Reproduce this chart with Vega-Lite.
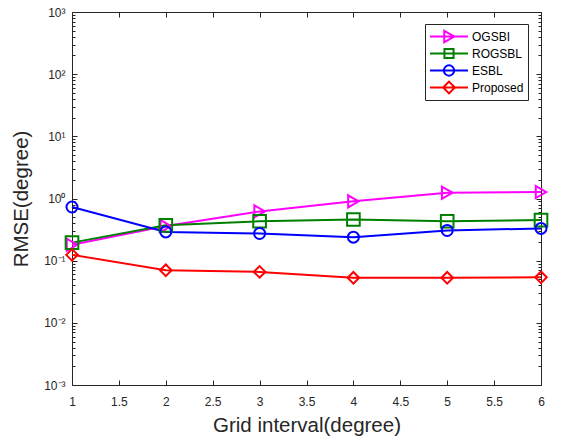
{
  "$schema": "https://vega.github.io/schema/vega-lite/v6.json",
  "width": 469,
  "height": 373,
  "autosize": "none",
  "padding": {"left": 72, "top": 12, "right": 23, "bottom": 57},
  "background": "white",
  "config": {
    "font": "Liberation Sans",
    "view": {"stroke": "#262626", "strokeWidth": 1},
    "axis": {
      "domain": false,
      "grid": false,
      "tickColor": "#262626",
      "tickWidth": 1,
      "labelColor": "#262626",
      "labelFontSize": 12,
      "labelFont": "Liberation Sans",
      "titleFont": "Liberation Sans",
      "titleFontSize": 20.5,
      "titleFontWeight": "normal",
      "titleColor": "#262626"
    }
  },
  "data": {
    "values": [
      {"method": "OGSBI", "interval": 1, "rmse": 0.18},
      {"method": "OGSBI", "interval": 2, "rmse": 0.36},
      {"method": "OGSBI", "interval": 3, "rmse": 0.62},
      {"method": "OGSBI", "interval": 4, "rmse": 0.90},
      {"method": "OGSBI", "interval": 5, "rmse": 1.24},
      {"method": "OGSBI", "interval": 6, "rmse": 1.27},
      {"method": "ROGSBL", "interval": 1, "rmse": 0.195},
      {"method": "ROGSBL", "interval": 2, "rmse": 0.37},
      {"method": "ROGSBL", "interval": 3, "rmse": 0.43},
      {"method": "ROGSBL", "interval": 4, "rmse": 0.46},
      {"method": "ROGSBL", "interval": 5, "rmse": 0.43},
      {"method": "ROGSBL", "interval": 6, "rmse": 0.45},
      {"method": "ESBL", "interval": 1, "rmse": 0.73},
      {"method": "ESBL", "interval": 2, "rmse": 0.29},
      {"method": "ESBL", "interval": 3, "rmse": 0.274},
      {"method": "ESBL", "interval": 4, "rmse": 0.239},
      {"method": "ESBL", "interval": 5, "rmse": 0.306},
      {"method": "ESBL", "interval": 6, "rmse": 0.33},
      {"method": "Proposed", "interval": 1, "rmse": 0.124},
      {"method": "Proposed", "interval": 2, "rmse": 0.070},
      {"method": "Proposed", "interval": 3, "rmse": 0.066},
      {"method": "Proposed", "interval": 4, "rmse": 0.053},
      {"method": "Proposed", "interval": 5, "rmse": 0.053},
      {"method": "Proposed", "interval": 6, "rmse": 0.054}
    ]
  },
  "resolve": {"axis": {"x": "independent", "y": "independent"}},
  "layer": [
    {
      "mark": {"type": "line", "strokeWidth": 2},
      "encoding": {
        "x": {
          "field": "interval", "type": "quantitative",
          "scale": {"domain": [1, 6], "nice": false, "zero": false},
          "axis": {
            "orient": "bottom",
            "values": [1, 1.5, 2, 2.5, 3, 3.5, 4, 4.5, 5, 5.5, 6],
            "tickSize": -5,
            "labelPadding": 16,
            "labelFlush": false,
            "labelExpr": "'' + datum.value",
            "title": "Grid interval(degree)",
            "titlePadding": 8
          }
        },
        "y": {
          "field": "rmse", "type": "quantitative",
          "scale": {"type": "log", "domain": [0.001, 1000], "nice": false},
          "axis": {
            "orient": "left",
            "values": [0.001, 0.01, 0.1, 1, 10, 100, 1000],
            "tickSize": -5,
            "labelPadding": 12,
            "labelOverlap": false,
            "labelExpr": "'10' + (datum.value > 500 ? '³' : datum.value > 50 ? '²' : datum.value > 5 ? '¹' : datum.value > 0.5 ? '⁰' : datum.value > 0.05 ? '⁻¹' : datum.value > 0.005 ? '⁻²' : '⁻³')",
            "title": "RMSE(degree)",
            "titlePadding": 12
          }
        },
        "color": {
          "field": "method", "type": "nominal",
          "scale": {"domain": ["OGSBI", "ROGSBL", "ESBL", "Proposed"], "range": ["#FF00FF", "#008000", "#0000FF", "#FF0000"]},
          "legend": {
            "title": null,
            "orient": "none",
            "legendX": 353,
            "legendY": 12,
            "strokeColor": "#262626",
            "fillColor": "white",
            "padding": 4,
            "clipHeight": 17,
            "rowPadding": 0,
            "symbolSize": 1444,
            "symbolStrokeWidth": 2,
            "labelFontSize": 12,
            "labelColor": "black",
            "labelOffset": 3,
            "encode": {
              "symbols": {
                "update": {
                  "shape": {"signal": "datum.value == 'OGSBI' ? 'M-1,0H1M-0.25,-0.3L0.28,0L-0.25,0.3Z' : datum.value == 'ROGSBL' ? 'M-1,0H1M-0.24,-0.24H0.24V0.24H-0.24Z' : datum.value == 'ESBL' ? 'M-1,0H1M-0.27,0A0.27,0.27,0,1,0,0.27,0A0.27,0.27,0,1,0,-0.27,0Z' : 'M-1,0H1M-0.31,0L0,-0.31L0.31,0L0,0.31Z'"},
                  "size": {"value": 1444},
                  "strokeWidth": {"value": 2},
                  "fill": {"value": "transparent"}
                }
              }
            }
          }
        }
      }
    },
    {
      "mark": {"type": "point", "filled": false, "strokeWidth": 2, "opacity": 1},
      "encoding": {
        "x": {
          "field": "interval", "type": "quantitative",
          "scale": {"domain": [1, 6], "nice": false, "zero": false},
          "axis": {"orient": "top", "values": [1, 1.5, 2, 2.5, 3, 3.5, 4, 4.5, 5, 5.5, 6], "tickSize": -5, "labels": false, "title": null}
        },
        "y": {
          "field": "rmse", "type": "quantitative",
          "scale": {"type": "log", "domain": [0.001, 1000], "nice": false},
          "axis": {
            "orient": "left",
            "values": [0.002, 0.003, 0.004, 0.005, 0.006, 0.007, 0.008, 0.009, 0.02, 0.03, 0.04, 0.05, 0.06, 0.07, 0.08, 0.09, 0.2, 0.3, 0.4, 0.5, 0.6, 0.7, 0.8, 0.9, 2, 3, 4, 5, 6, 7, 8, 9, 20, 30, 40, 50, 60, 70, 80, 90, 200, 300, 400, 500, 600, 700, 800, 900],
            "tickSize": -3, "labels": false, "title": null
          }
        },
        "color": {
          "field": "method", "type": "nominal",
          "scale": {"domain": ["OGSBI", "ROGSBL", "ESBL", "Proposed"], "range": ["#FF00FF", "#008000", "#0000FF", "#FF0000"]},
          "legend": null
        },
        "shape": {
          "field": "method", "type": "nominal",
          "scale": {"domain": ["ROGSBL", "OGSBI", "ESBL", "Proposed"], "range": ["square", "triangle-right", "circle", "diamond"]},
          "legend": null
        },
        "size": {
          "field": "method", "type": "nominal",
          "scale": {"domain": ["ESBL", "Proposed", "OGSBI", "ROGSBL"], "range": [121, 160, 160, 90]},
          "legend": null
        }
      }
    },
    {
      "mark": {"type": "point", "opacity": 0},
      "encoding": {
        "x": {"field": "interval", "type": "quantitative", "scale": {"domain": [1, 6], "nice": false, "zero": false}, "axis": null},
        "y": {
          "field": "rmse", "type": "quantitative",
          "scale": {"type": "log", "domain": [0.001, 1000], "nice": false},
          "axis": {"orient": "right", "values": [0.001, 0.01, 0.1, 1, 10, 100, 1000], "tickSize": -5, "labels": false, "title": null}
        }
      }
    },
    {
      "mark": {"type": "point", "opacity": 0},
      "encoding": {
        "x": {"field": "interval", "type": "quantitative", "scale": {"domain": [1, 6], "nice": false, "zero": false}, "axis": null},
        "y": {
          "field": "rmse", "type": "quantitative",
          "scale": {"type": "log", "domain": [0.001, 1000], "nice": false},
          "axis": {
            "orient": "right",
            "values": [0.002, 0.003, 0.004, 0.005, 0.006, 0.007, 0.008, 0.009, 0.02, 0.03, 0.04, 0.05, 0.06, 0.07, 0.08, 0.09, 0.2, 0.3, 0.4, 0.5, 0.6, 0.7, 0.8, 0.9, 2, 3, 4, 5, 6, 7, 8, 9, 20, 30, 40, 50, 60, 70, 80, 90, 200, 300, 400, 500, 600, 700, 800, 900],
            "tickSize": -3, "labels": false, "title": null
          }
        }
      }
    }
  ]
}
